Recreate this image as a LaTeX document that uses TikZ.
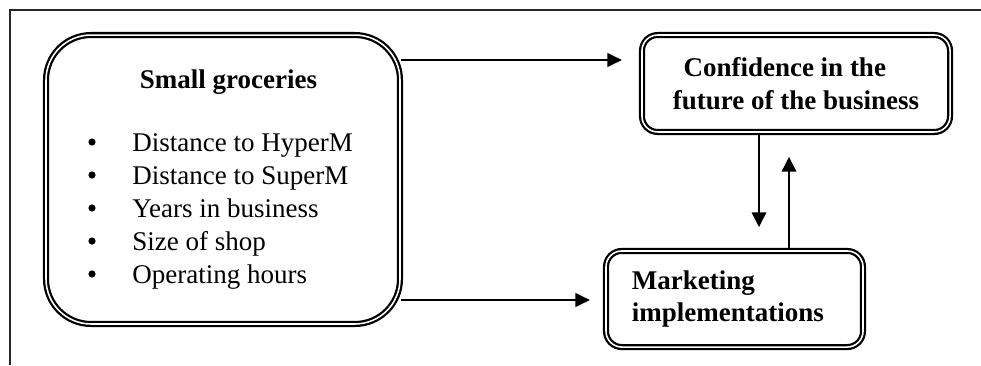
\documentclass[tikz,border=0pt]{standalone}
\usepackage{fontspec}
\setmainfont{Liberation Serif}
\usepackage{tikz}
\usetikzlibrary{arrows.meta}

\tikzset{
  dbox/.style={draw,double,line width=1pt,double distance=0.7pt,inner sep=0pt},
  title/.style={font=\fontsize{12}{14.4}\selectfont\bfseries},
  item/.style={anchor=base west,inner sep=0pt},
  dot/.style={circle,fill,inner sep=0pt,minimum size=3.2pt},
  flow/.style={line width=1pt,-{Triangle[length=6.5pt,width=6pt]}},
  link/.style={line width=0.65pt,-{Triangle[length=6.5pt,width=6.5pt]}}
}

\begin{document}
\begin{tikzpicture}[x=0.4444pt,y=-0.4444pt,
  every node/.style={font=\fontsize{12}{14.4}\selectfont}]
\useasboundingbox (0,0) rectangle (981,365);

% Frame
\draw[line width=0.5pt,black!85] (10,365) -- (10,10) -- (981,10);

% Boxes
\node[dbox,rounded corners=20pt,minimum width=157.3pt,minimum height=128.4pt] (groc) at (223,179.5) {};
\node[dbox,rounded corners=7pt,minimum width=136.9pt,minimum height=43.1pt,align=center,title] (conf) at (796,83.5)
  {Confidence in the\hspace*{10pt}\\future of the business};
\node[dbox,rounded corners=7pt,minimum width=114.2pt,minimum height=42.7pt,text width=91.2pt,inner xsep=11.5pt,align=left,title] (mkt) at (734.5,299)
  {Marketing\\implementations};

% Text of the groceries box
\node[title,anchor=base,inner sep=0pt] (gtitle) at (228.5,88) {Small groceries};
\foreach \txt [count=\i] in {Distance to HyperM,Distance to SuperM,Years in business,Size of shop,Operating hours} {
  \node[dot] (b\i) at (92,{142+33*(\i-1)}) {};
  \node[item] (it\i) at (132,{151.5+33*(\i-1)}) {\txt};
}

% Arrows
\coordinate (t1) at (622,60);
\coordinate (t2) at (590,300);
\coordinate (t3) at (759,227);
\coordinate (t4) at (789,157);
\draw[flow] (groc.east |- t1) -- (t1);
\draw[flow] (groc.east |- t2) -- (t2);
\draw[link] (conf.south -| t3) -- (t3);
\draw[link] (mkt.north -| t4) -- (t4);
\end{tikzpicture}
\end{document}
